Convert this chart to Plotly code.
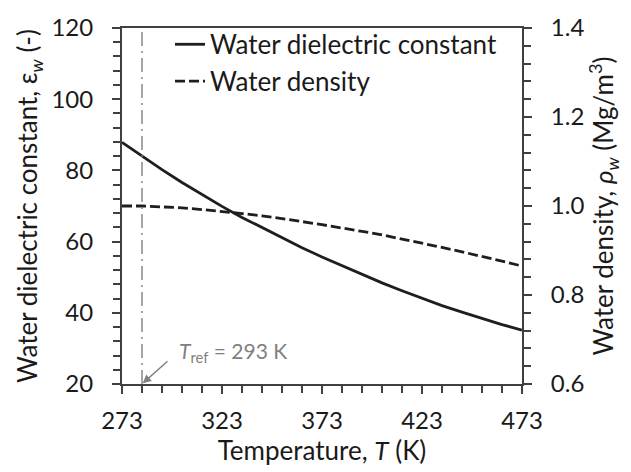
import plotly.graph_objects as go

# Temperature grid (K)
temperature = [273, 283, 293, 303, 313, 323, 333, 343, 353, 363, 373,
               383, 393, 403, 413, 423, 433, 443, 453, 463, 473]
# Relative permittivity of water
dielectric = [87.9, 84.0, 80.2, 76.6, 73.2, 69.9, 66.8, 63.9, 61.0, 58.3, 55.7,
              53.2, 50.8, 48.4, 46.2, 44.0, 42.0, 40.2, 38.4, 36.7, 35.1]
# Density of water (Mg/m3)
density = [1.000, 1.000, 0.998, 0.996, 0.992, 0.988, 0.983, 0.978, 0.972, 0.965, 0.958,
           0.951, 0.943, 0.935, 0.926, 0.917, 0.907, 0.897, 0.887, 0.876, 0.865]

x_ticks = [273, 323, 373, 423, 473]
ref_line_T = 283
ref_label = "<i>T</i><sub>ref</sub> = 293 K"

FONT = "Lato"
AXIS_COLOR = "#404040"
TEXT_COLOR = "#1a1a1a"
GRAY = "#808080"
TICK_SIZE = 24
TITLE_SIZE = 26

fig = go.Figure()
fig.add_trace(go.Scatter(x=temperature, y=dielectric, mode="lines",
                         name="Water dielectric constant",
                         line=dict(color="#1e1e1e", width=2.8)))
fig.add_trace(go.Scatter(x=temperature, y=density, mode="lines",
                         name="Water density", yaxis="y2",
                         line=dict(color="#1e1e1e", width=2.8, dash="10px,4px")))

# Reference temperature marker
fig.add_shape(type="line", x0=ref_line_T, x1=ref_line_T, y0=20, y1=120,
              xref="x", yref="y",
              line=dict(color=GRAY, width=1.4, dash="14px,5px,2px,5px"))
fig.add_annotation(x=ref_line_T, y=20, xref="x", yref="y", text="",
                   showarrow=True, ax=27, ay=-24, arrowhead=2, arrowsize=1.2,
                   arrowwidth=1.4, arrowcolor=GRAY, standoff=1)
fig.add_annotation(x=300.5, y=29.0, xref="x", yref="y", text=ref_label,
                   showarrow=False, xanchor="left", yanchor="middle",
                   font=dict(family=FONT, size=21, color=GRAY))

axis_common = dict(showgrid=False, zeroline=False, showline=True, linecolor=AXIS_COLOR,
                   linewidth=2, ticks="outside", ticklen=8, tickwidth=2,
                   tickcolor=AXIS_COLOR,
                   tickfont=dict(family=FONT, size=TICK_SIZE, color=TEXT_COLOR))

fig.update_layout(
    width=631, height=472,
    margin=dict(l=122, r=109, t=23, b=88),
    paper_bgcolor="white", plot_bgcolor="white",
    font=dict(family=FONT, color=TEXT_COLOR),
    showlegend=True,
    legend=dict(x=0.12, y=1.02, xanchor="left", yanchor="top",
                bgcolor="rgba(0,0,0,0)", font=dict(family=FONT, size=26, color=TEXT_COLOR),
                tracegroupgap=0),
    xaxis=dict(range=[273, 473], tickvals=x_ticks, mirror=True, ticklabelstandoff=6,
               minor=dict(tick0=273, dtick=10, ticks="outside", ticklen=7,
                          tickwidth=1.6, tickcolor=AXIS_COLOR),
               title=dict(text="Temperature, <i>T</i> (K)", standoff=2,
                          font=dict(family=FONT, size=TITLE_SIZE, color=TEXT_COLOR)),
               **axis_common),
    yaxis=dict(range=[20, 120], tick0=20, dtick=20, ticklabelstandoff=14,
               minor=dict(tick0=20, dtick=4, ticks="outside", ticklen=7,
                          tickwidth=1.6, tickcolor=AXIS_COLOR),
               title=dict(text="Water dielectric constant, ε<sub><i>w</i></sub> (-)",
                          standoff=6,
                          font=dict(family=FONT, size=TITLE_SIZE, color=TEXT_COLOR)),
               **axis_common),
    yaxis2=dict(range=[0.6, 1.4], tick0=0.6, dtick=0.2, tickformat=".1f",
                overlaying="y", side="right", ticklabelstandoff=14,
                minor=dict(tick0=0.6, dtick=0.04, ticks="outside", ticklen=7,
                           tickwidth=1.6, tickcolor=AXIS_COLOR),
                title=dict(text="Water density, <i>ρ<sub>w</sub></i> (Mg/m<sup>3</sup>)",
                           standoff=8,
                           font=dict(family=FONT, size=TITLE_SIZE, color=TEXT_COLOR)),
                **axis_common),
)

fig.write_html("out.html")
